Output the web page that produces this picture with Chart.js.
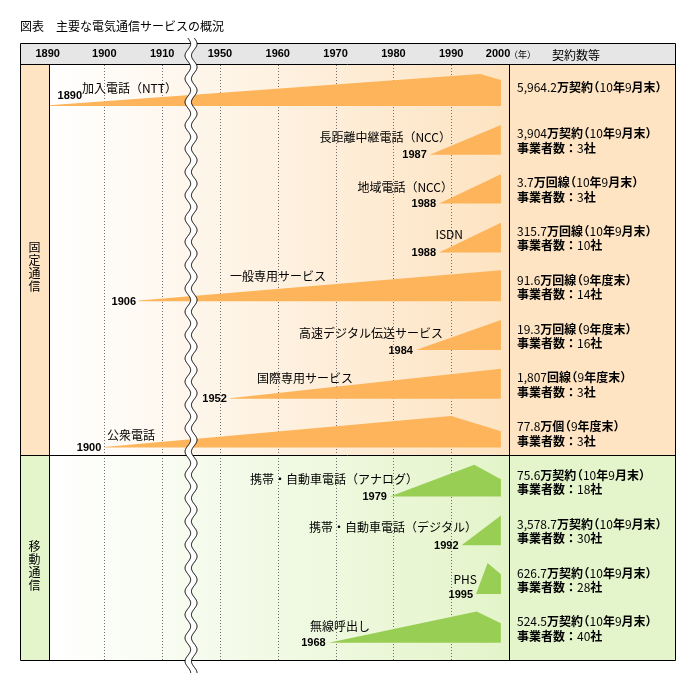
<!DOCTYPE html>
<html><head><meta charset="utf-8">
<script src="https://cdn.jsdelivr.net/npm/chart.js@4.4.1/dist/chart.umd.min.js"></script>
<style>html,body{margin:0;padding:0;background:#fff}canvas{display:block}</style>
</head><body>
<canvas id="c" width="696" height="693"></canvas>
<script>
// ---------------- data ----------------
const title = '図表　主要な電気通信サービスの概況';
const groups = ['固定通信', '移動通信'];
const services = ['加入電話（NTT）','長距離中継電話（NCC）','地域電話（NCC）','ISDN','一般専用サービス','高速デジタル伝送サービス','国際専用サービス','公衆電話','携帯・自動車電話（アナログ）','携帯・自動車電話（デジタル）','PHS','無線呼出し'];
const serviceGroup = [0,0,0,0,0,0,0,0,1,1,1,1];
const startYearLabels = ['1890','1987','1988','1988','1906','1984','1952','1900','1979','1992','1995','1968'];
const contractText = ['5,964.2万契約（10年9月末）','3,904万契約（10年9月末）','3.7万回線（10年9月末）','315.7万回線（10年9月末）','91.6万回線（9年度末）','19.3万回線（9年度末）','1,807回線（9年度末）','77.8万個（9年度末）','75.6万契約（10年9月末）','3,578.7万契約（10年9月末）','626.7万契約（10年9月末）','524.5万契約（10年9月末）'];
const operatorCounts = [null,3,3,10,14,16,3,3,18,30,28,40];
// growth profile of each service: years and relative size (0-100)
const profileYears = [[1890,1995,1998.6],[1986.3,1998.6],[1987.9,1998.6],[1987.9,1998.6],[1906,1998.6],[1983.9,1998.6],[1951.7,1998.6],[1900,1990,1998.6],[1979.4,1994,1998.6],[1991.8,1998.6],[1994.3,1996.3,1998.6],[1968.8,1994.4,1998.6]];
const profileSizes = [[2,100,81],[0,93],[0,92],[0,93],[2,97],[0,94],[2,94],[2,99,51],[0,99,54],[0,93],[0,97,62],[0,98,61]];
const tickLabels = ['1890','1900','1910','1950','1960','1970','1980','1990','2000'];
const tickYears = [1890.2,1900,1910,1950,1960,1970,1980,1990,1998.1];
const breakYear = 1930;

// ---------------- layout / style ----------------
const CJK = '"Noto Sans CJK JP","Noto Sans CJK SC",sans-serif';
const LAT = '"Liberation Sans",Arial,sans-serif';
const ORANGE = '#FDB45A', GREEN = '#99CE55';
const PEACH = '#FEE4C2', LGREEN = '#E4F5CC';
const FULL = 0.656;           // row fraction for size 100
const nameRight = [177,451,453,463,326,443,353,155,418,477,477,370];
const nameDy = [-18,-17,-16,-18,-25,-17,-20,-12,-17,-18,-15,-16];

// broken axis: 1910-1950 compressed into one decade
const u = y => y <= 1910 ? y : (y >= 1950 ? y - 30 : 1910 + (y - 1910) / 4);

const datasets = services.map((s, i) => ({
  label: s,
  data: profileYears[i].map((yr, k) => ({x: u(yr), y: i - profileSizes[i][k] / 100 * FULL})),
  fill: {value: i},
  backgroundColor: serviceGroup[i] ? GREEN : ORANGE,
  borderWidth: 0, pointRadius: 0, tension: 0
}));

function rich(ctx, text, x, y) {
  ctx.textAlign = 'left'; ctx.textBaseline = 'middle';
  for (const ch of text) {
    const ascii = ch.charCodeAt(0) < 128;
    ctx.font = (ascii ? '' : 'bold ') + '12px ' + CJK;
    const w = ctx.measureText(ch).width;
    if (ch === '（') { ctx.fillText(ch, x - w * 0.45, y); x += w * 0.55; }
    else if (ch === '）') { ctx.fillText(ch, x, y); x += w * 0.55; }
    else { ctx.fillText(ch, x, y); x += w; }
  }
}

function wave(ctx, cx, top, bottom) {
  const A = 2.8, P = 23.3, gap = 6.4, pts = [];
  for (let y = top; y <= bottom; y += 0.5) pts.push([cx + A * Math.sin(2 * Math.PI * (y - top) / P), y]);
  ctx.save();
  ctx.beginPath();
  pts.forEach(([x, y], k) => k ? ctx.lineTo(x - gap / 2, y) : ctx.moveTo(x - gap / 2, y));
  for (let k = pts.length - 1; k >= 0; k--) ctx.lineTo(pts[k][0] + gap / 2, pts[k][1]);
  ctx.closePath(); ctx.fillStyle = '#fff'; ctx.fill();
  ctx.strokeStyle = '#000'; ctx.lineWidth = 1;
  for (const off of [-gap / 2, gap / 2]) {
    ctx.beginPath();
    pts.forEach(([x, y], k) => k ? ctx.lineTo(x + off, y) : ctx.moveTo(x + off, y));
    ctx.stroke();
  }
  ctx.restore();
}

const L = 20, R = 675, T = 43, HB = 64, CATR = 49, TXTL = 509, B = 660;

const frame = {
  id: 'frame',
  beforeDraw(chart) {
    const ctx = chart.ctx, ys = chart.scales.y;
    const sep = Math.round(ys.getPixelForValue(7.155));
    ctx.save();
    ctx.fillStyle = '#fff'; ctx.fillRect(0, 0, chart.width, chart.height);
    ctx.fillStyle = '#E6E6E6'; ctx.fillRect(L, T, R - L, HB - T);
    ctx.fillStyle = PEACH; ctx.fillRect(L, HB, CATR - L, sep - HB); ctx.fillRect(TXTL, HB, R - TXTL, sep - HB);
    ctx.fillStyle = LGREEN; ctx.fillRect(L, sep, CATR - L, B - sep); ctx.fillRect(TXTL, sep, R - TXTL, B - sep);
    let g = ctx.createLinearGradient(CATR, 0, TXTL, 0);
    g.addColorStop(0, '#FFFFFF'); g.addColorStop(1, '#FDE3C1');
    ctx.fillStyle = g; ctx.fillRect(CATR, HB, TXTL - CATR, sep - HB);
    g = ctx.createLinearGradient(CATR, 0, TXTL, 0);
    g.addColorStop(0, '#FFFFFF'); g.addColorStop(1, '#E3F4C9');
    ctx.fillStyle = g; ctx.fillRect(CATR, sep, TXTL - CATR, B - sep);
    ctx.restore();
    chart.$sep = sep;
  },
  beforeDatasetsDraw(chart) {
    // dotted vertical grid lines at the axis ticks (not at the edges)
    const ctx = chart.ctx, xs = chart.scales.x;
    ctx.save();
    ctx.strokeStyle = '#6e6e6e'; ctx.lineWidth = 1; ctx.setLineDash([1, 2]);
    for (let k = 1; k < xs.ticks.length - 1; k++) {
      const px = Math.round(xs.getPixelForTick(k)) + 0.5;
      ctx.beginPath(); ctx.moveTo(px, HB + 1); ctx.lineTo(px, B); ctx.stroke();
    }
    ctx.restore();
  },
  afterDatasetsDraw(chart) {
    const ctx = chart.ctx, xs = chart.scales.x, ys = chart.scales.y, sep = chart.$sep;
    ctx.save();
    // borders
    ctx.strokeStyle = '#000'; ctx.lineWidth = 1;
    ctx.beginPath();
    ctx.rect(L + 0.5, T + 0.5, R - L, B - T);
    ctx.moveTo(L, HB + 0.5); ctx.lineTo(R, HB + 0.5);
    ctx.moveTo(L, sep + 0.5); ctx.lineTo(R, sep + 0.5);
    ctx.moveTo(CATR + 0.5, HB); ctx.lineTo(CATR + 0.5, B);
    ctx.moveTo(TXTL + 0.5, HB); ctx.lineTo(TXTL + 0.5, B);
    ctx.stroke();
    // break
    wave(ctx, xs.getPixelForValue(u(breakYear)), 38, 673);
    ctx.fillStyle = '#000';
    // title
    ctx.font = '12px ' + CJK; ctx.textAlign = 'left'; ctx.textBaseline = 'middle';
    ctx.fillText(title, 20, 26);
    // header extras
    ctx.font = '9px ' + CJK; ctx.fillText('（年）', 509, 55);
    ctx.font = '12px ' + CJK; ctx.fillText('契約数等', 552, 55);
    // group labels vertical
    const mids = [(HB + sep) / 2 + 7, (sep + B) / 2 + 8];
    groups.forEach((gname, gi) => {
      const chars = [...gname];
      ctx.font = '12px ' + CJK; ctx.textAlign = 'center';
      chars.forEach((ch, k) => ctx.fillText(ch, 34.5, mids[gi] + (k - (chars.length - 1) / 2) * 13));
    });
    // row texts
    services.forEach((s, i) => {
      const base = ys.getPixelForValue(i);
      ctx.font = '12px ' + CJK; ctx.textAlign = 'right'; ctx.textBaseline = 'middle';
      ctx.fillText(s, nameRight[i], base + nameDy[i]);
      ctx.font = 'bold 11px ' + LAT;
      const sx = xs.getPixelForValue(u(profileYears[i][0]));
      if (i === 0) ctx.fillText(startYearLabels[i], sx + 35.5, base - 10);
      else ctx.fillText(startYearLabels[i], sx - 3, base + 0.5);
      if (operatorCounts[i] === null) {
        rich(ctx, contractText[i], 517, base - 19);
      } else {
        rich(ctx, contractText[i], 517, base - 21);
        rich(ctx, '事業者数：' + operatorCounts[i] + '社', 517, base - 6.5);
      }
    });
    ctx.restore();
  }
};

const tickPos = tickYears.map(u);
new Chart(document.getElementById('c').getContext('2d'), {
  type: 'line',
  data: {datasets},
  options: {
    responsive: false, animation: false, devicePixelRatio: 1,
    layout: {padding: {left: 49, right: 187, top: 43, bottom: 33}},
    plugins: {legend: {display: false}, tooltip: {enabled: false}},
    scales: {
      x: {
        type: 'linear', position: 'top', min: 1890.43, max: 1970,
        afterBuildTicks: sc => { sc.ticks = tickPos.map(v => ({value: v})); },
        afterFit: sc => { sc.height = 21; },
        border: {display: false},
        grid: {display: false, drawTicks: false},
        ticks: {autoSkip: false, maxRotation: 0, padding: 3, color: '#000',
          font: {family: LAT, size: 11, weight: 'bold'},
          callback: (v, i) => tickLabels[i]}
      },
      y: {type: 'linear', display: false, reverse: true, min: -0.8607, max: 11.352}
    }
  },
  plugins: [frame]
});
</script>
</body></html>
